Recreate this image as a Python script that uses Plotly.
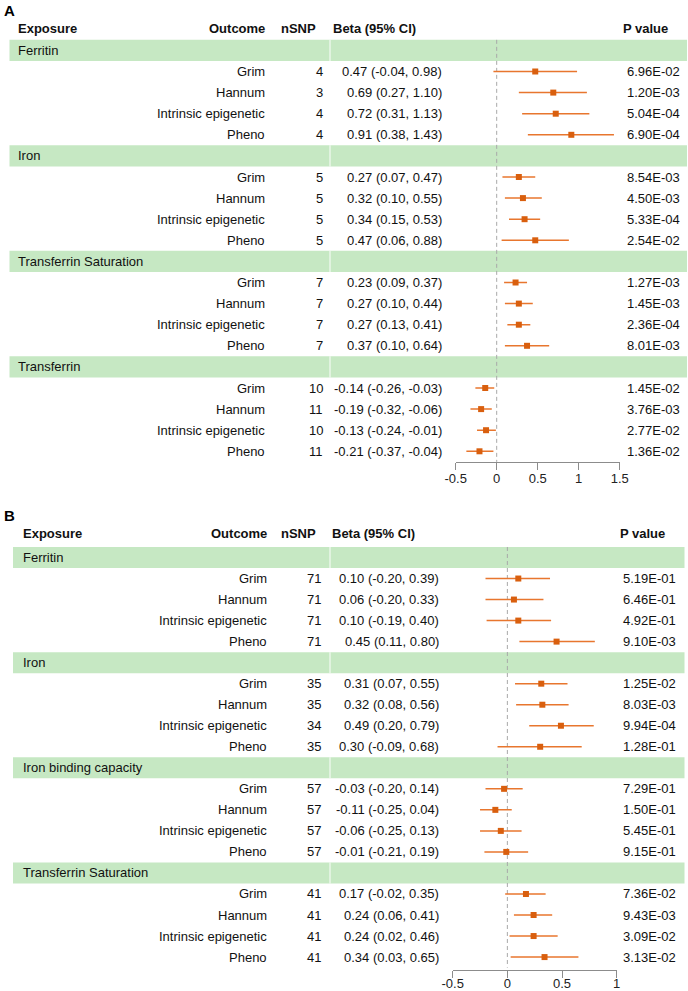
import plotly.graph_objects as go

W, H = 688, 991

# ---------------- data ----------------
outcomes = ["Grim", "Hannum", "Intrinsic epigenetic", "Pheno"]

a_exposures = ["Ferritin", "Iron", "Transferrin Saturation", "Transferrin"]
a_nsnp = [4, 3, 4, 4, 5, 5, 5, 5, 7, 7, 7, 7, 10, 11, 10, 11]
a_beta = [0.47, 0.69, 0.72, 0.91, 0.27, 0.32, 0.34, 0.47,
          0.23, 0.27, 0.27, 0.37, -0.14, -0.19, -0.13, -0.21]
a_lo = [-0.04, 0.27, 0.31, 0.38, 0.07, 0.10, 0.15, 0.06,
        0.09, 0.10, 0.13, 0.10, -0.26, -0.32, -0.24, -0.37]
a_hi = [0.98, 1.10, 1.13, 1.43, 0.47, 0.55, 0.53, 0.88,
        0.37, 0.44, 0.41, 0.64, -0.03, -0.06, -0.01, -0.04]
a_p = [6.96e-02, 1.20e-03, 5.04e-04, 6.90e-04, 8.54e-03, 4.50e-03, 5.33e-04, 2.54e-02,
       1.27e-03, 1.45e-03, 2.36e-04, 8.01e-03, 1.45e-02, 3.76e-03, 2.77e-02, 1.36e-02]
a_ticks = [-0.5, 0, 0.5, 1, 1.5]
a_ticklabels = ["-0.5", "0", "0.5", "1", "1.5"]

b_exposures = ["Ferritin", "Iron", "Iron binding capacity", "Transferrin Saturation"]
b_nsnp = [71, 71, 71, 71, 35, 35, 34, 35, 57, 57, 57, 57, 41, 41, 41, 41]
b_beta = [0.10, 0.06, 0.10, 0.45, 0.31, 0.32, 0.49, 0.30,
          -0.03, -0.11, -0.06, -0.01, 0.17, 0.24, 0.24, 0.34]
b_lo = [-0.20, -0.20, -0.19, 0.11, 0.07, 0.08, 0.20, -0.09,
        -0.20, -0.25, -0.25, -0.21, -0.02, 0.06, 0.02, 0.03]
b_hi = [0.39, 0.33, 0.40, 0.80, 0.55, 0.56, 0.79, 0.68,
        0.14, 0.04, 0.13, 0.19, 0.35, 0.41, 0.46, 0.65]
b_p = [5.19e-01, 6.46e-01, 4.92e-01, 9.10e-03, 1.25e-02, 8.03e-03, 9.94e-04, 1.28e-01,
       7.29e-01, 1.50e-01, 5.45e-01, 9.15e-01, 7.36e-02, 9.43e-03, 3.09e-02, 3.13e-02]
b_ticks = [-0.5, 0, 0.5, 1]
b_ticklabels = ["-0.5", "0", "0.5", "1"]

# ---------------- style ----------------
FONT = "Liberation Sans, Arial, sans-serif"
TXT = "#111111"
BAND = "#C6E8C3"
MK = "#D95F0E"
LN = "#E8762E"

fig = go.Figure()
fig.update_layout(width=W, height=H, margin=dict(l=0, r=0, t=0, b=0, pad=0, autoexpand=False),
                  paper_bgcolor="white", plot_bgcolor="rgba(0,0,0,0)",
                  showlegend=False, font=dict(family=FONT, size=13, color=TXT))

annotations = []
shapes = []


def px(x):
    return x / W


def panel(label, label_y, exposures, nsnp, beta, lo, hi, pv, ticks, ticklabels,
          xa, ya, c0, step, xdom, xrange, axis_px, header_y, band_x, cols, standoff):
    # y axis: row index -> pixel: c0 + step*i
    ymin = (0 - c0) / step
    ymax = (H - c0) / step
    fig.update_layout(**{
        ya["name"]: dict(domain=[0, 1], range=[ymax, ymin], visible=False, fixedrange=True,
                         automargin=False),
        xa["name"]: dict(domain=[px(xdom[0]), px(xdom[1])], range=xrange, anchor="free",
                         position=(H - axis_px) / H, showline=True, linecolor="#8c8c8c",
                         linewidth=1, ticks="outside", ticklen=7, tickcolor="#8c8c8c",
                         tickvals=ticks, ticktext=ticklabels, showgrid=False, zeroline=False,
                         automargin=False, ticklabelstandoff=standoff,
                         tickfont=dict(size=13, color="#222222", family=FONT), fixedrange=True),
    })
    if ya["name"] != "yaxis":
        fig.update_layout(**{ya["name"]: dict(overlaying="y")})

    rows_y, rows_b, rows_lo, rows_hi = [], [], [], []
    for g, ex in enumerate(exposures):
        band_row = g * 5
        shapes.append(dict(type="rect", xref="paper", yref=ya["ref"],
                           x0=px(band_x[0]), x1=px(band_x[1]),
                           y0=band_row - 0.5, y1=band_row + 0.5,
                           fillcolor=BAND, line=dict(width=0), layer="below"))
        shapes.append(dict(type="line", xref="paper", yref=ya["ref"],
                           x0=px(330), x1=px(330), y0=band_row - 0.5, y1=band_row + 0.5,
                           line=dict(color="rgba(255,255,255,0.8)", width=1.2), layer="below"))
        annotations.append(dict(text=ex, xref="paper", yref=ya["ref"], x=px(cols["exp"]),
                                y=band_row, xanchor="left", yanchor="middle", showarrow=False,
                                font=dict(size=13, color=TXT)))
        for k, oc in enumerate(outcomes):
            i = g * 4 + k
            r = band_row + 1 + k
            rows_y.append(r)
            rows_b.append(beta[i])
            rows_lo.append(lo[i])
            rows_hi.append(hi[i])
            annotations.append(dict(text=oc, xref="paper", yref=ya["ref"], x=px(cols["out"]),
                                    y=r, xanchor="right", yanchor="middle", showarrow=False))
            annotations.append(dict(text=str(nsnp[i]), xref="paper", yref=ya["ref"],
                                    x=px(cols["n"]), y=r, xanchor="right", yanchor="middle",
                                    showarrow=False))
            annotations.append(dict(text=f"{beta[i]:.2f} ({lo[i]:.2f}, {hi[i]:.2f})",
                                    xref="paper", yref=ya["ref"], x=px(cols["beta"]), y=r,
                                    xanchor="right", yanchor="middle", showarrow=False))
            annotations.append(dict(text=f"{pv[i]:.2E}", xref="paper", yref=ya["ref"],
                                    x=px(cols["p"]), y=r, xanchor="right", yanchor="middle",
                                    showarrow=False))

    # dashed zero line
    shapes.append(dict(type="line", xref=xa["ref"], yref=ya["ref"], x0=0, x1=0,
                       y0=-0.5, y1=len(exposures) * 5 - 0.5,
                       line=dict(color="#a8a8a8", width=1, dash="4px,3px"), layer="below"))

    fig.add_trace(go.Scatter(
        x=rows_b, y=rows_y, xaxis=xa["ref"], yaxis=ya["ref"], mode="markers",
        marker=dict(symbol="square", size=6, color=MK, line=dict(width=0)),
        error_x=dict(type="data", symmetric=False,
                     array=[h - b for h, b in zip(rows_hi, rows_b)],
                     arrayminus=[b - l for b, l in zip(rows_b, rows_lo)],
                     color=LN, thickness=1.5, width=0),
        cliponaxis=False, hoverinfo="skip"))

    # headers
    hy = 1 - header_y / H
    hdr = dict(xref="paper", yref="paper", y=hy, yanchor="middle", showarrow=False,
               font=dict(size=13, color=TXT, family=FONT))
    annotations.append(dict(text="<b>Exposure</b>", x=px(cols["exp"]), xanchor="left", **hdr))
    annotations.append(dict(text="<b>Outcome</b>", x=px(cols["out"]), xanchor="right", **hdr))
    annotations.append(dict(text="<b>nSNP</b>", x=px(cols["nh"]), xanchor="right", **hdr))
    annotations.append(dict(text="<b>Beta (95% CI)</b>", x=px(cols["bh"]), xanchor="left", **hdr))
    annotations.append(dict(text="<b>P value</b>", x=px(cols["ph"]), xanchor="right", **hdr))
    annotations.append(dict(text=f"<b>{label}</b>", xref="paper", yref="paper", x=px(2),
                            y=1 - label_y / H, xanchor="left", yanchor="middle",
                            showarrow=False, font=dict(size=15, color="#000000", family=FONT)))


panel("A", 10, a_exposures, a_nsnp, a_beta, a_lo, a_hi, a_p, a_ticks, a_ticklabels,
      dict(name="xaxis", ref="x"), dict(name="yaxis", ref="y"),
      c0=50.4, step=21.1, xdom=(455.7, 619.7), xrange=[-0.5, 1.5], axis_px=462,
      header_y=28, band_x=(9.5, 687),
      cols=dict(exp=16, out=267, n=325, beta=444, p=682, nh=318, bh=331, ph=670),
      standoff=-3)

panel("B", 515, b_exposures, b_nsnp, b_beta, b_lo, b_hi, b_p, b_ticks, b_ticklabels,
      dict(name="xaxis2", ref="x2"), dict(name="yaxis2", ref="y2"),
      c0=557.5, step=21.03, xdom=(452.7, 616.7), xrange=[-0.5, 1.0], axis_px=970,
      header_y=533, band_x=(13, 684.5),
      cols=dict(exp=20.5, out=269, n=323, beta=441, p=678, nh=318, bh=330, ph=667),
      standoff=-6)

fig.update_layout(annotations=annotations, shapes=shapes)
fig.write_html("out.html", config={"displayModeBar": False, "staticPlot": True},
               post_script="document.body.style.margin='0';document.body.style.padding='0';"
                           "document.documentElement.style.overflow='hidden';")
